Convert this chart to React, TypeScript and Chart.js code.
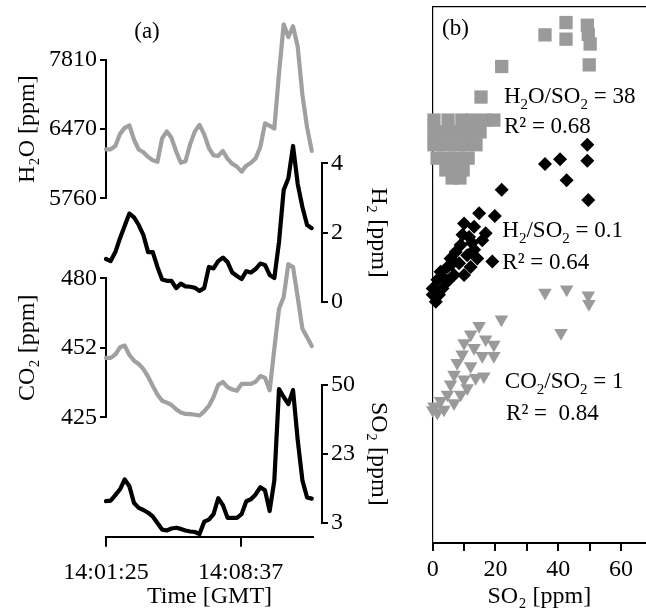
import React, { useEffect, useRef } from 'react';
import { Chart, registerables } from 'chart.js';

Chart.register(...registerables);

const FONT = '"Liberation Serif", "Times New Roman", serif';
const BLACK = '#000000';
const GREY_LINE = '#a0a0a0';
const GREY_MARK = '#9a9a9a';

// ---------- Panel (a): time series ----------
const TIME_S = [0, 15, 30, 45, 60, 75, 90, 105, 120, 135, 150, 165, 180, 195, 210, 225, 240, 255, 270, 285, 300, 315, 330, 345, 360, 375, 390, 405, 420, 435, 450, 465, 480, 495, 510, 525, 540, 555, 570, 585, 600, 615, 630, 645, 660];
const TIME_TICKS = [0, 432];
const TIME_LABELS = ['14:01:25', '14:08:37'];

const H2O_TICKS = [5760, 6470, 7810];
const H2_TICKS = [0, 2, 4];
const CO2_TICKS = [425, 452, 480];
const SO2_TICKS = [3, 23, 50];

const H2O = [6263, 6263, 6296, 6422, 6494, 6543, 6361, 6261, 6233, 6185, 6150, 6135, 6376, 6447, 6381, 6241, 6125, 6140, 6316, 6447, 6553, 6417, 6276, 6200, 6195, 6246, 6165, 6115, 6085, 6034, 6095, 6125, 6170, 6286, 6583, 6534, 6484, 7553, 8503, 8255, 8463, 8067, 7137, 6504, 6246];
const H2 = [1.24, 1.18, 1.44, 1.84, 2.2, 2.55, 2.44, 2.22, 1.93, 1.44, 1.44, 1.01, 0.65, 0.61, 0.61, 0.4, 0.53, 0.45, 0.44, 0.41, 0.32, 0.4, 1.01, 0.97, 1.18, 1.28, 1.15, 0.85, 0.75, 0.66, 0.89, 0.85, 0.95, 1.11, 1.07, 0.78, 0.69, 1.73, 3.23, 3.57, 4.5, 3.4, 2.74, 2.22, 2.13];
const CO2 = [448.1, 448.1, 449.4, 452.2, 452.9, 449.2, 447.0, 445.7, 443.7, 440.8, 437.2, 433.9, 431.4, 430.7, 429.8, 428.1, 426.9, 426.3, 426.2, 426.0, 425.7, 427.3, 429.4, 432.9, 437.6, 438.7, 436.7, 435.8, 435.3, 438.0, 438.0, 438.0, 438.8, 441.0, 440.4, 435.5, 451.7, 467.7, 472.5, 485.7, 484.5, 472.3, 459.7, 456.3, 452.7];
const SO2 = [9.25, 9.4, 11.0, 12.7, 15.6, 13.6, 8.7, 7.3, 6.7, 5.9, 4.8, 2.9, 1.0, 0.75, 1.3, 1.55, 1.2, 0.75, 0.45, 0.3, -0.3, 3.3, 3.9, 5.5, 10.1, 8.1, 4.4, 4.4, 4.4, 5.5, 9.25, 9.8, 11.2, 13.3, 12.4, 6.4, 15.3, 48.4, 45.3, 42.5, 48.0, 28.3, 15.3, 10.3, 10.0];

// ---------- Panel (b): scatter ----------
const SQ_X = [35.8, 42.5, 42.5, 49.3, 49.6, 50.2, 49.9, 22.0, 15.4, 0.4, 4.9, 9.3, 12.5, 16.5, 19.5, 0.4, 4.2, 8.1, 11.9, 15.1, 0.4, 3.6, 7.1, 10.6, 13.8, 1.4, 4.9, 8.1, 11.3, 4.2, 7.4, 9.7, 6.2, 8.7];
const SQ_Y = [94.8, 97.1, 94.0, 96.6, 94.9, 93.1, 89.2, 88.9, 83.2, 78.9, 78.9, 78.9, 78.9, 78.9, 78.9, 76.7, 76.7, 76.7, 76.7, 76.7, 74.3, 74.3, 74.3, 74.3, 74.3, 71.8, 71.8, 71.8, 71.8, 69.6, 69.6, 69.6, 68.1, 68.1];

const DI_X = [49.3, 49.3, 40.6, 35.8, 42.7, 49.6, 22.0, 19.0, 14.8, 19.8, 10.0, 13.2, 16.9, 11.6, 15.8, 8.9, 7.3, 13.2, 11.0, 14.2, 5.7, 8.4, 12.1, 4.7, 2.5, 6.8, 10.0, 1.5, 4.7, 0.0, 3.1, 0.0, 2.0, 6.0, 9.5, 3.5, 12.5, 1.0];
const DI_Y = [74.3, 71.3, 71.6, 70.7, 67.7, 64.0, 65.9, 52.5, 61.5, 61.0, 59.6, 59.0, 57.8, 57.1, 56.5, 55.6, 54.3, 54.7, 53.7, 53.1, 53.1, 52.2, 51.5, 51.5, 50.6, 50.0, 50.0, 49.1, 48.8, 47.5, 47.5, 46.3, 46.3, 52.0, 57.5, 49.5, 56.0, 45.0];

const TR_X = [35.8, 42.7, 49.6, 49.8, 40.9, 21.9, 14.8, 12.1, 16.9, 19.5, 10.0, 13.2, 19.5, 9.4, 15.8, 7.8, 12.1, 16.3, 13.7, 10.0, 6.8, 11.0, 5.7, 4.7, 8.9, 2.5, 6.8, 0.4, 0.0, 3.6, 1.5];
const TR_Y = [46.7, 47.3, 46.2, 44.6, 39.2, 41.7, 40.5, 38.9, 38.0, 37.0, 37.3, 36.4, 34.9, 35.2, 34.9, 33.6, 33.0, 31.1, 30.8, 30.5, 31.4, 28.9, 29.6, 27.7, 27.7, 26.5, 26.1, 25.5, 24.8, 24.9, 24.3];

const SO2_AXIS_TICKS = [0, 10, 20, 30, 40, 50, 60];
const SO2_AXIS_LABELS = ['0', '', '20', '', '40', '', '60'];

// annotation texts: segments [text, isSubscript]
const NOTES: [string, boolean][][] = [
  [['H', false], ['2', true], ['O/SO', false], ['2', true], [' = 38', false]],
  [['R\u00B2 = 0.68', false]],
  [['H', false], ['2', true], ['/SO', false], ['2', true], [' = 0.1', false]],
  [['R\u00B2 = 0.64', false]],
  [['CO', false], ['2', true], ['/SO', false], ['2', true], [' = 1', false]],
  [['R\u00B2 =  0.84', false]],
];
const NOTE_X = [22.7, 22.7, 22.2, 22.2, 23.0, 23.4];
const NOTE_Y = [82.0, 76.4, 57.0, 51.1, 28.9, 22.9];

function toIdx(v: number, ticks: number[]): number {
  const n = ticks.length;
  let j = 0;
  while (j < n - 2 && v > ticks[j + 1]) j++;
  return j + (v - ticks[j]) / (ticks[j + 1] - ticks[j]);
}

const zeroPad = (s: any) => {
  s.paddingTop = 0; s.paddingBottom = 0; s.paddingLeft = 0; s.paddingRight = 0;
};
const fixW = (w: number) => (s: any) => { s.width = w; zeroPad(s); };
const fixH = (h: number) => (s: any) => { s.height = h; zeroPad(s); };

const tickFont = { family: FONT, size: 24 };
const titleFont = { family: FONT, size: 24 };

function idxScale(pos: string, weight: number, stackWeight: number, ticks: number[], title: string, titlePad: number) {
  return {
    type: 'linear',
    position: pos,
    stack: 'a',
    stackWeight,
    weight,
    min: 0,
    max: ticks.length - 1,
    afterBuildTicks: (s: any) => { s.ticks = ticks.map((_, i) => ({ value: i })); },
    afterFit: fixW(pos === 'left' ? 106 : 78),
    ticks: { callback: (v: number) => String(ticks[v]), font: tickFont, color: BLACK, padding: 3, autoSkip: false },
    grid: { drawOnChartArea: false, drawTicks: true, tickLength: 6, color: BLACK, lineWidth: 2 },
    border: { display: true, color: BLACK, width: 2 },
    title: { display: true, text: title, font: titleFont, color: BLACK, padding: { top: titlePad, bottom: 0 } },
  };
}

function gapScale(pos: string, weight: number, stackWeight: number) {
  const horizontal = pos === 'bottom' || pos === 'top';
  return {
    type: 'linear',
    position: pos,
    stack: 'a',
    stackWeight,
    weight,
    min: 0,
    max: 1,
    ticks: { display: false },
    grid: { display: false },
    border: { display: false },
    afterFit: horizontal ? fixH(74.3) : fixW(pos === 'left' ? 106 : 78),
  };
}

function series(values: number[], ticks: number[]) {
  return TIME_S.map((t, i) => ({ x: t, y: toIdx(values[i], ticks) }));
}

function lineDs(values: number[], ticks: number[], axis: string, color: string) {
  return {
    data: series(values, ticks),
    yAxisID: axis,
    xAxisID: 'x',
    borderColor: color,
    borderWidth: 4.2,
    pointRadius: 0,
    tension: 0,
    clip: false,
    borderJoinStyle: 'round',
    borderCapStyle: 'round',
  };
}

const labelA = {
  id: 'labelA',
  afterDraw(chart: any) {
    const ctx = chart.ctx;
    ctx.save();
    ctx.fillStyle = BLACK;
    ctx.font = `23px ${FONT}`;
    ctx.textAlign = 'center';
    ctx.textBaseline = 'alphabetic';
    ctx.fillText('(a)', 147, 38);
    ctx.restore();
  },
};

const notesB = {
  id: 'notesB',
  afterDraw(chart: any) {
    const ctx = chart.ctx;
    const xs = chart.scales.x;
    const ys = chart.scales.y;
    ctx.save();
    ctx.fillStyle = BLACK;
    ctx.textAlign = 'left';
    ctx.textBaseline = 'alphabetic';
    ctx.font = `23px ${FONT}`;
    ctx.fillText('(b)', 42, 35);
    NOTES.forEach((segs, i) => {
      let cx = xs.getPixelForValue(NOTE_X[i]);
      const by = ys.getPixelForValue(NOTE_Y[i]);
      segs.forEach(([t, sub]) => {
        ctx.font = `${sub ? 15 : 23}px ${FONT}`;
        ctx.fillText(t, cx, sub ? by + 6 : by);
        cx += ctx.measureText(t).width;
      });
    });
    ctx.restore();
  },
};

function configA(): any {
  return {
    type: 'line',
    data: {
      datasets: [
        lineDs(H2O, H2O_TICKS, 'yH2O', GREY_LINE),
        lineDs(H2, H2_TICKS, 'yH2', BLACK),
        lineDs(CO2, CO2_TICKS, 'yCO2', GREY_LINE),
        lineDs(SO2, SO2_TICKS, 'ySO2', BLACK),
      ],
    },
    options: {
      responsive: false,
      animation: false,
      devicePixelRatio: 1,
      events: [],
      layout: { padding: { top: 60, left: 0, right: 0, bottom: 0 }, autoPadding: false },
      plugins: { legend: { display: false }, tooltip: { enabled: false }, title: { display: false } },
      scales: {
        x: {
          type: 'linear',
          position: 'bottom',
          stack: 'a',
          stackWeight: 207,
          weight: 1,
          min: 0,
          max: 664,
          afterBuildTicks: (s: any) => { s.ticks = TIME_TICKS.map((v) => ({ value: v })); },
          afterFit: fixH(74.3),
          ticks: {
            callback: (v: number) => TIME_LABELS[TIME_TICKS.indexOf(v)],
            maxRotation: 0, minRotation: 0, autoSkip: false, padding: 12, font: tickFont, color: BLACK,
          },
          grid: { drawOnChartArea: false, drawTicks: true, tickLength: 10, color: BLACK, lineWidth: 2 },
          border: { display: true, color: BLACK, width: 2 },
          title: { display: true, text: 'Time [GMT]', font: titleFont, color: BLACK, padding: { top: 0, bottom: 0 } },
        },
        xg: gapScale('bottom', 2, 9),
        yH2O: idxScale('left', 4, 138.3, H2O_TICKS, 'H\u2082O [ppm]', 13),
        ygL1: gapScale('left', 3, 80),
        yCO2: idxScale('left', 2, 139, CO2_TICKS, 'CO\u2082 [ppm]', 13),
        ygL2: gapScale('left', 1, 119.4),
        ygR1: gapScale('right', 1, 103.3),
        yH2: idxScale('right', 2, 138.7, H2_TICKS, 'H\u2082 [ppm]', 7),
        ygR2: gapScale('right', 3, 83),
        ySO2: idxScale('right', 4, 137.7, SO2_TICKS, 'SO\u2082 [ppm]', 7),
        ygR3: gapScale('right', 5, 14),
      },
    },
    plugins: [labelA],
  };
}

function scatterDs(xs: number[], ys: number[], style: string, color: string, radius: number, rotation: number) {
  return {
    data: xs.map((x, i) => ({ x, y: ys[i] })),
    pointStyle: style,
    pointRadius: radius,
    pointRotation: rotation,
    backgroundColor: color,
    borderColor: color,
    borderWidth: 0,
    showLine: false,
    clip: false,
  };
}

function configB(): any {
  return {
    type: 'scatter',
    data: {
      datasets: [
        scatterDs(SQ_X, SQ_Y, 'rect', GREY_MARK, 9.4, 0),
        scatterDs(TR_X, TR_Y, 'triangle', GREY_MARK, 7.8, 180),
        scatterDs(DI_X, DI_Y, 'rectRot', BLACK, 7, 0),
      ],
    },
    options: {
      responsive: false,
      animation: false,
      devicePixelRatio: 1,
      events: [],
      layout: { padding: { top: 7, left: 32.7, right: 0, bottom: 0 }, autoPadding: false },
      plugins: { legend: { display: false }, tooltip: { enabled: false }, title: { display: false } },
      scales: {
        x: {
          type: 'linear',
          position: 'bottom',
          min: 0,
          max: 68,
          afterBuildTicks: (s: any) => { s.ticks = SO2_AXIS_TICKS.map((v) => ({ value: v })); },
          afterFit: fixH(68),
          ticks: {
            callback: (v: number) => SO2_AXIS_LABELS[SO2_AXIS_TICKS.indexOf(v)],
            maxRotation: 0, minRotation: 0, autoSkip: false, padding: 4, font: tickFont, color: BLACK,
          },
          grid: { drawOnChartArea: false, drawTicks: true, tickLength: 8, color: BLACK, lineWidth: 2 },
          border: { display: true, color: BLACK, width: 2 },
          title: { display: true, text: 'SO\u2082 [ppm]', font: titleFont, color: BLACK, padding: { top: 0, bottom: 0 } },
        },
        x2: {
          type: 'linear',
          position: 'top',
          min: 0,
          max: 68,
          afterFit: fixH(0),
          ticks: { display: false },
          grid: { display: false },
          border: { display: true, color: BLACK, width: 1.2 },
        },
        y: {
          type: 'linear',
          position: 'left',
          min: 0,
          max: 100,
          afterFit: fixW(0),
          ticks: { display: false },
          grid: { display: false },
          border: { display: true, color: BLACK, width: 1.2 },
        },
      },
    },
    plugins: [notesB],
  };
}

export default function App() {
  const refA = useRef<HTMLCanvasElement>(null);
  const refB = useRef<HTMLCanvasElement>(null);
  useEffect(() => {
    document.body.style.margin = '0';
    Chart.defaults.color = BLACK;
    Chart.defaults.font.family = FONT;
    const a = new Chart(refA.current as HTMLCanvasElement, configA());
    const b = new Chart(refB.current as HTMLCanvasElement, configB());
    return () => { a.destroy(); b.destroy(); };
  }, []);
  return (
    <div style={{ position: 'absolute', left: 0, top: 0, width: 646, height: 611, background: '#ffffff', overflow: 'hidden' }}>
      <canvas ref={refA} width={400} height={611} style={{ position: 'absolute', left: 0, top: 0, width: 400, height: 611 }} />
      <canvas ref={refB} width={246} height={611} style={{ position: 'absolute', left: 400, top: 0, width: 246, height: 611 }} />
    </div>
  );
}
